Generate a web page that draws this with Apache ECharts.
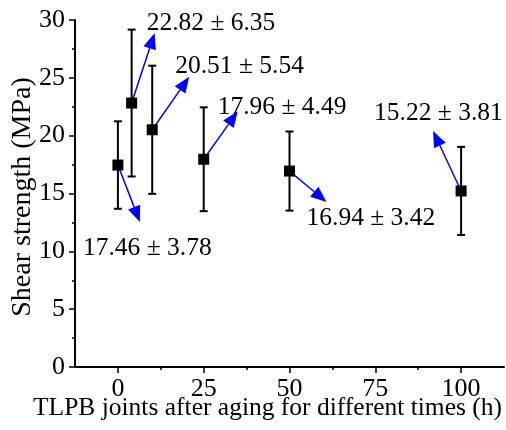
<!DOCTYPE html>
<html>
<head>
<meta charset="utf-8">
<script src="https://cdn.jsdelivr.net/npm/echarts@6/dist/echarts.min.js"></script>
<style>
html,body{margin:0;padding:0;background:#fff;}
#main{width:506px;height:430px;}
</style>
</head>
<body>
<div id="main"></div>
<script>
// aging time (h), mean shear strength (MPa), standard deviation
var agingHours = [0, 4, 10, 25, 50, 100];
var shearMean = [17.46, 22.82, 20.51, 17.96, 16.94, 15.22];
var shearStd = [3.78, 6.35, 5.54, 4.49, 3.42, 3.81];
var xTicks = [0, 25, 50, 75, 100];
var xMinorTicks = [12.5, 37.5, 62.5, 87.5];

// annotation layout (pixel offsets from each point): arrow tip, label left/middle
var arrowTip = [[22, 57], [23, -70], [37, -53], [34, -48], [37, 31], [-28, -60]];
var labelPos = [[-35, 83], [15, -80], [23, -63], [14, -52], [17, 47], [-87, -78]];

var FONT = '"Liberation Serif", "Times New Roman", serif';
var chart = echarts.init(document.getElementById('main'));

var points = agingHours.map(function (h, i) { return [h, shearMean[i], shearStd[i]]; });

var option = {
	animation: false,
	grid: {left: 75, right: 2, top: 20, bottom: 63, outerBoundsMode: 'none', containLabel: false},
	xAxis: [{
		type: 'value',
		min: -12.5,
		max: 112.5,
		splitLine: {show: false},
		axisLine: {onZero: false, lineStyle: {color: '#000', width: 2}},
		axisTick: {customValues: xTicks, length: 6, lineStyle: {color: '#000', width: 1.5}},
		axisLabel: {customValues: xTicks, color: '#000', fontFamily: FONT, fontSize: 26, margin: 9},
		name: 'TLPB joints after aging for different times (h)',
		nameLocation: 'middle',
		nameMoveOverlap: false,
		nameGap: 28,
		nameTextStyle: {color: '#000', fontFamily: FONT, fontSize: 25.5, padding: [0, 44, 0, 0]}
	}, {
		type: 'value',
		position: 'bottom',
		min: -12.5,
		max: 112.5,
		splitLine: {show: false},
		axisLine: {show: false, onZero: false},
		axisTick: {customValues: xMinorTicks, length: 3, lineStyle: {color: '#000', width: 1.5}},
		axisLabel: {show: false}
	}],
	yAxis: {
		type: 'value',
		min: 0,
		max: 30,
		interval: 5,
		splitLine: {show: false},
		axisLine: {show: true, onZero: false, lineStyle: {color: '#000', width: 2}},
		axisTick: {show: true, length: 6, lineStyle: {color: '#000', width: 1.5}},
		minorTick: {show: true, splitNumber: 2, length: 3, lineStyle: {color: '#000', width: 1.5}},
		axisLabel: {color: '#000', fontFamily: FONT, fontSize: 26, margin: 10},
		name: 'Shear strength (MPa)',
		nameLocation: 'middle',
		nameMoveOverlap: false,
		nameGap: 38,
		nameTextStyle: {color: '#000', fontFamily: FONT, fontSize: 28, padding: [0, 7, 0, 0]}
	},
	series: [{
		// error bars
		type: 'custom',
		data: points,
		z: 2,
		renderItem: function (params, api) {
			var x = api.value(0), y = api.value(1), e = api.value(2);
			var top = api.coord([x, y + e]);
			var bot = api.coord([x, y - e]);
			var hw = 4;
			var style = {stroke: '#000', lineWidth: 2};
			return {
				type: 'group',
				children: [
					{type: 'line', shape: {x1: top[0], y1: top[1], x2: bot[0], y2: bot[1]}, style: style},
					{type: 'line', shape: {x1: top[0] - hw, y1: top[1], x2: top[0] + hw, y2: top[1]}, style: style},
					{type: 'line', shape: {x1: bot[0] - hw, y1: bot[1], x2: bot[0] + hw, y2: bot[1]}, style: style}
				]
			};
		}
	}, {
		// arrows and labels
		type: 'custom',
		data: points,
		z: 3,
		renderItem: function (params, api) {
			var i = params.dataIndex;
			var p = api.coord([api.value(0), api.value(1)]);
			var t = arrowTip[i];
			var tip = [p[0] + t[0], p[1] + t[1]];
			var len = Math.sqrt(t[0] * t[0] + t[1] * t[1]);
			var ux = t[0] / len, uy = t[1] / len;
			var L = 16, W = 13;
			var base = [tip[0] - ux * L, tip[1] - uy * L];
			var nx = -uy * W / 2, ny = ux * W / 2;
			var txt = api.value(1).toFixed(2) + ' \u00b1 ' + api.value(2).toFixed(2);
			return {
				type: 'group',
				children: [
					{type: 'line', shape: {x1: p[0], y1: p[1], x2: base[0], y2: base[1]},
						style: {stroke: '#0000ff', lineWidth: 1.5}},
					{type: 'polygon', shape: {points: [tip, [base[0] + nx, base[1] + ny], [base[0] - nx, base[1] - ny]]},
						style: {fill: '#0000ff'}},
					{type: 'text', x: p[0] + labelPos[i][0], y: p[1] + labelPos[i][1],
						style: {text: txt, fill: '#000', font: '25.5px ' + FONT, align: 'left', verticalAlign: 'middle'}}
				]
			};
		}
	}, {
		type: 'scatter',
		data: points,
		symbol: 'rect',
		symbolSize: 11,
		itemStyle: {color: '#000', opacity: 1},
		z: 4
	}]
};

chart.setOption(option);
</script>
</body>
</html>
